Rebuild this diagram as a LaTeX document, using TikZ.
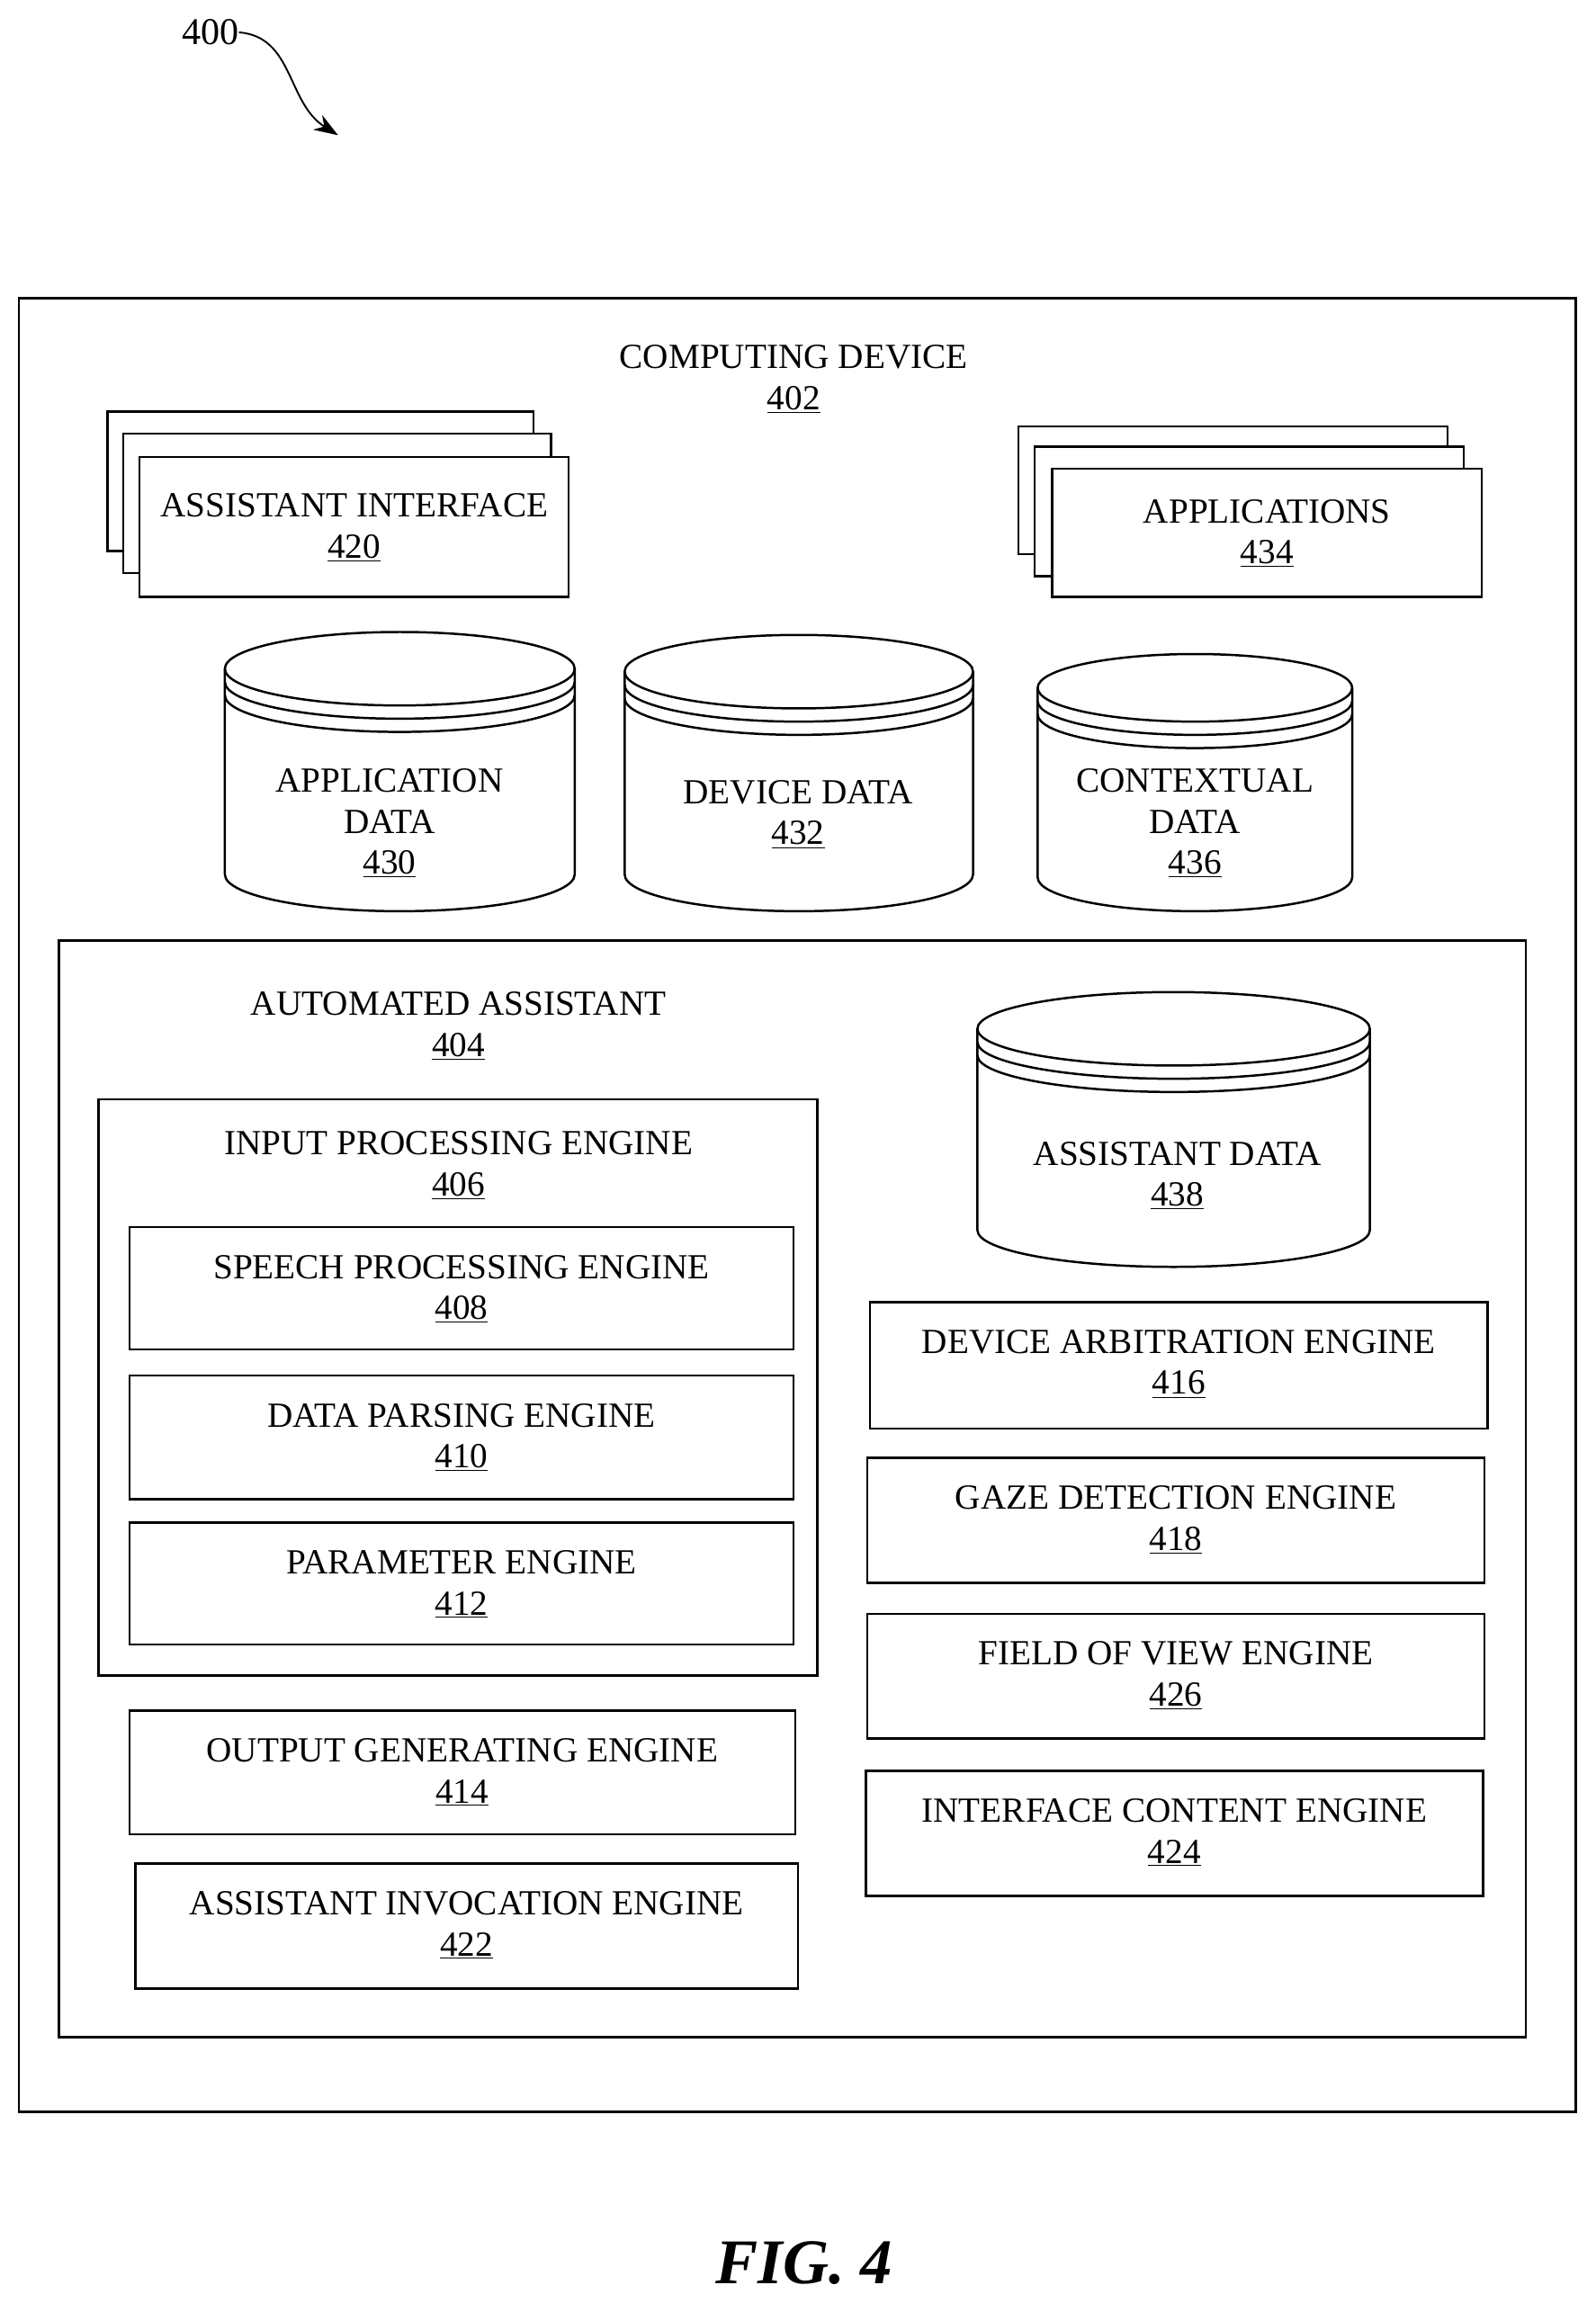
\documentclass[tikz,border=0pt]{standalone}
\usepackage{fontspec}
\setmainfont{Liberation Serif}
\usetikzlibrary{arrows.meta}
\newcommand\mycyl[6]{% x1 x2 ycenter ybottom ry name
 \pgfmathsetmacro\cx{(#1+#2)/2}\pgfmathsetmacro\rx{(#2-#1)/2}
 \draw[line width=1.3pt] (\cx,#3) ellipse [x radius=\rx, y radius=#5];
 \draw[line width=1.3pt] (#1,#3+9) arc[start angle=180,end angle=0,x radius=\rx,y radius=#5];
 \draw[line width=1.3pt] (#1,#3+18) arc[start angle=180,end angle=0,x radius=\rx,y radius=#5];
 \draw[line width=1.3pt] (#1,#3) -- (#1,#4) arc[start angle=180,end angle=0,x radius=\rx,y radius=#5] -- (#2,#3);
 \coordinate (#6) at (\cx,#4);}
\begin{document}
\begin{tikzpicture}[x=0.3mm,y=-0.3mm,
  bx/.style={draw,line width=1.3pt,fill=white},
  lb/.style={font=\fontsize{20.5}{24}\selectfont,inner sep=0pt,anchor=center}]
\useasboundingbox (0,0) rectangle (1085.5,1567);
\node[lb,font=\fontsize{22}{26}\selectfont] (n400) at (143,22) {400};
\coordinate (a400) at (230,92);
\draw[line width=1pt,-{Stealth[length=14pt,width=10pt]}] (n400.east) .. controls (200,25) and (195,70) .. (a400);
\draw[bx] (13,203) rectangle (1072,1437);
\node[lb] (t402) at (540,243) {COMPUTING DEVICE};
\node[lb] (u402) at (540,272) {\underline{402}};
% assistant interface
\draw[bx] (73,280) rectangle (363,375);
\draw[bx] (84,295) rectangle (375,390);
\draw[bx] (95,311) rectangle (387,406);
\node[lb] (t420) at (241,344) {ASSISTANT INTERFACE};
\node[lb] (u420) at (241,373) {\underline{420}};
% applications
\draw[bx] (693,290) rectangle (985,377);
\draw[bx] (704,304) rectangle (996,392);
\draw[bx] (716,319) rectangle (1008,406);
\node[lb] (t434) at (862,348) {APPLICATIONS};
\node[lb] (u434) at (862,377) {\underline{434}};
% cylinders
\mycyl{153}{391}{455}{595}{25}{c430}
\node[lb] at (265,531) {APPLICATION};
\node[lb] at (265,559) {DATA};
\node[lb] at (265,588) {\underline{430}};
\mycyl{425}{662}{457}{595}{25}{c432}
\node[lb] at (543,539) {DEVICE DATA};
\node[lb] at (543,568) {\underline{432}};
\mycyl{706}{920}{468}{597}{23}{c436}
\node[lb] at (813,531) {CONTEXTUAL};
\node[lb] at (813,559) {DATA};
\node[lb] at (813,588) {\underline{436}};
% inner
\draw[bx] (40,640) rectangle (1038,1386);
\node[lb] at (312,683) {AUTOMATED ASSISTANT};
\node[lb] at (312,712) {\underline{404}};
\mycyl{665}{932}{700}{837}{25}{c438}
\node[lb] at (801,785) {ASSISTANT DATA};
\node[lb] at (801,814) {\underline{438}};
\draw[bx] (67,748) rectangle (556,1140);
\node[lb] at (312,778) {INPUT PROCESSING ENGINE};
\node[lb] at (312,807) {\underline{406}};
\foreach \xa/\ya/\xb/\yb/\t/\n in {
 88/835/540/918/SPEECH PROCESSING ENGINE/408,
 88/936/540/1020/DATA PARSING ENGINE/410,
 88/1036/540/1119/PARAMETER ENGINE/412,
 88/1164/541/1248/OUTPUT GENERATING ENGINE/414,
 92/1268/543/1353/ASSISTANT INVOCATION ENGINE/422,
 592/886/1012/972/DEVICE ARBITRATION ENGINE/416,
 590/992/1010/1077/GAZE DETECTION ENGINE/418,
 590/1098/1010/1183/FIELD OF VIEW ENGINE/426,
 589/1205/1009/1290/INTERFACE CONTENT ENGINE/424}{
 \draw[bx] (\xa,\ya) rectangle (\xb,\yb);
 \node[lb] (t\n) at ({(\xa+\xb)/2},\ya+27) {\t};
 \node[lb] (u\n) at ({(\xa+\xb)/2},\ya+56) {\underline{\n}};
}
\node[lb,font=\fontsize{37}{40}\selectfont\bfseries\itshape] (fig) at (547,1540) {FIG. 4};
\end{tikzpicture}
\end{document}
